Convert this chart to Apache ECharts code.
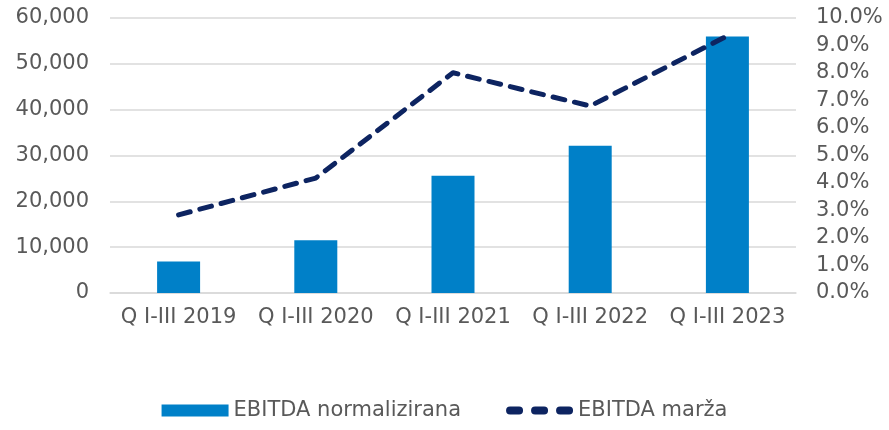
<!DOCTYPE html>
<html>
<head>
<meta charset="utf-8">
<script src="https://cdn.jsdelivr.net/npm/echarts@6/dist/echarts.min.js"></script>
<style>
  html, body { margin: 0; padding: 0; background: #fff; }
  #chart { width: 889px; height: 430px; }
</style>
</head>
<body>
<div id="chart"></div>
<script>
  // podaci
  var categories = ['Q I-III 2019', 'Q I-III 2020', 'Q I-III 2021', 'Q I-III 2022', 'Q I-III 2023'];
  var ebitdaNorm = [6850, 11500, 25600, 32150, 55950];
  var ebitdaMarza = [2.84, 4.18, 8.01, 6.8, 9.35]; // u %

  var textColor = '#595959';
  var font = 'DejaVu Sans';
  var navy = '#0d2461';

  // ikona legende: tri zaobljene crtice
  var dashIcon = 'path://M4,0H13A4,4 0 0 1 13,8H4A4,4 0 0 1 4,0Z' +
    'M29,0H38A4,4 0 0 1 38,8H29A4,4 0 0 1 29,0Z' +
    'M54,0H63A4,4 0 0 1 63,8H54A4,4 0 0 1 54,0Z';

  var chart = echarts.init(document.getElementById('chart'));
  chart.setOption({
    animation: false,
    grid: { left: 110, right: 93, top: 18, bottom: 137 },
    legend: {
      bottom: 4,
      left: 'center',
      itemWidth: 67,
      itemHeight: 12,
      itemGap: 45,
      textStyle: { color: textColor, fontFamily: font, fontSize: 21 },
      data: [
        { name: 'EBITDA normalizirana', icon: 'rect' },
        { name: 'EBITDA marža', icon: dashIcon }
      ]
    },
    xAxis: {
      type: 'category',
      data: categories,
      axisLine: { lineStyle: { color: '#d9d9d9', width: 1.5 } },
      axisTick: { show: false },
      axisLabel: { interval: 0, color: textColor, fontFamily: font, fontSize: 21, margin: 14 }
    },
    yAxis: [
      {
        type: 'value',
        min: 0, max: 60000, interval: 10000,
        axisLabel: {
          color: textColor, fontFamily: font, fontSize: 21, margin: 21,
          formatter: function (v) { return v.toLocaleString('en-US'); }
        },
        splitLine: { lineStyle: { color: '#d9d9d9', width: 1.5 } }
      },
      {
        type: 'value',
        min: 0, max: 10, interval: 1,
        axisLabel: {
          color: textColor, fontFamily: font, fontSize: 21, margin: 20,
          formatter: function (v) { return v.toFixed(1) + '%'; }
        },
        splitLine: { show: false }
      }
    ],
    series: [
      {
        name: 'EBITDA normalizirana',
        type: 'bar',
        barWidth: 43,
        itemStyle: { color: '#0080c8' },
        data: ebitdaNorm
      },
      {
        name: 'EBITDA marža',
        type: 'line',
        yAxisIndex: 1,
        symbol: 'none',
        smooth: false,
        lineStyle: { color: navy, width: 5, type: [12, 10], cap: 'round', join: 'round' },
        itemStyle: { color: navy },
        data: ebitdaMarza
      }
    ]
  });
</script>
</body>
</html>
